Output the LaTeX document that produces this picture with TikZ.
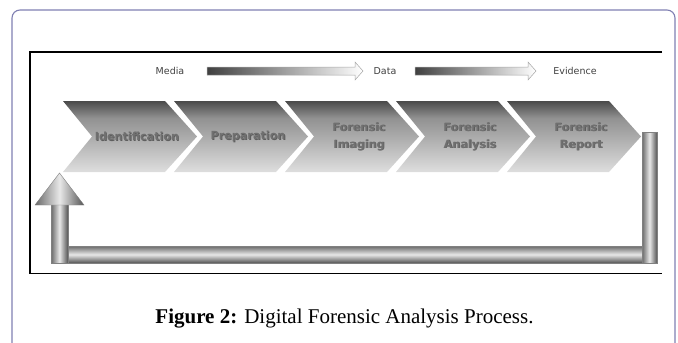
\documentclass[tikz,border=0pt]{standalone}
\usepackage{fontspec}
\setmainfont{Liberation Serif}
\newfontfamily\dvfont{DejaVu Sans}
\usetikzlibrary{calc}
\definecolor{boxline}{RGB}{128,128,178}
\definecolor{chevtext}{RGB}{112,112,112}
\definecolor{chevshadow}{RGB}{60,60,60}
\definecolor{pipedark}{RGB}{105,105,105}
\definecolor{pipelight}{RGB}{232,232,232}
\pgfdeclareverticalshading{chevgrad}{100bp}{rgb(0bp)=(0.87,0.87,0.87); rgb(25bp)=(0.87,0.87,0.87); rgb(50bp)=(0.67,0.67,0.67); rgb(63bp)=(0.57,0.57,0.57); rgb(75bp)=(0.29,0.29,0.29); rgb(100bp)=(0.29,0.29,0.29)}
\begin{document}
\begin{tikzpicture}[x=1pt,y=-1pt,
  outerbox/.style={draw=boxline,line width=1.1pt,rounded corners=8pt},
  frameline/.style={draw=black,line width=1.5pt},
  chevshape/.style={shading=chevgrad},
  chevlabel/.style={font=\dvfont\bfseries\fontsize{11.2}{17}\selectfont,text=chevtext,align=center,inner sep=0pt},
  chevshad/.style={chevlabel,text=chevshadow,opacity=0.7},
  toplabel/.style={font=\dvfont\fontsize{9.5}{11}\selectfont,text=black!75,inner sep=0pt},
  toparrow/.style={left color=black!75,right color=white,draw=black!35,line width=0.5pt},
  vpipe/.style={left color=pipedark,right color=pipedark!80!black,middle color=pipelight,draw=black!50,line width=0.4pt},
  hpipe/.style={top color=pipedark,bottom color=pipedark!80!black,middle color=pipelight,draw=black!50,line width=0.4pt},
  caption/.style={font=\fontsize{21}{25}\selectfont,inner sep=0pt}]
\useasboundingbox (0,0) rectangle (678,343);
% outer rounded box (open at the bottom)
\draw[outerbox] (12,360) -- (12,10) -- (675,10) -- (675,360);
% inner frame
\draw[frameline] (662,52) -- (30,52) -- (30,273.5) -- (662,273.5);
% top labels and arrows
\node[toplabel] (media) at (170,71) {Media};
\node[toplabel] (data) at (385,71) {Data};
\node[toplabel] (evid) at (575,71) {Evidence};
\coordinate (a1s) at (207,71);
\coordinate (a1e) at (363,71);
\coordinate (a2s) at (415,71);
\coordinate (a2e) at (536,71);
\shadedraw[toparrow] ($(a1s)+(0,-4)$) -- ($(a1e)+(-8,-4)$) -- ($(a1e)+(-8,-9)$) -- (a1e) -- ($(a1e)+(-8,9)$) -- ($(a1e)+(-8,4)$) -- ($(a1s)+(0,4)$) -- cycle;
\shadedraw[toparrow] ($(a2s)+(0,-4)$) -- ($(a2e)+(-8,-4)$) -- ($(a2e)+(-8,-9)$) -- (a2e) -- ($(a2e)+(-8,9)$) -- ($(a2e)+(-8,4)$) -- ($(a2s)+(0,4)$) -- cycle;
% chevrons
\foreach \L/\nm/\txt in {63/c1/Identification,174/c2/Preparation,285/c3/{Forensic\\Imaging},396/c4/{Forensic\\Analysis},507/c5/{Forensic\\Report}}{
  \shade[chevshape] (\L,101) -- ++(102,0) -- ++(32,35.5) -- ++(-32,35.5) -- ++(-102,0) -- ++(29,-35.5) -- cycle;
  \node[chevshad] (\nm s) at (\L+74.8,137.3) {\txt};
  \node[chevlabel] (\nm) at (\L+74,136.5) {\txt};
}
% feedback pipe
\shadedraw[hpipe] (68,246) rectangle (642,263);
\shadedraw[vpipe] (642,132) rectangle (657,263);
\shadedraw[vpipe] (51,204) rectangle (68,263);
\coordinate (tipL) at (59.5,173);
\shadedraw[vpipe] (35,205) -- (tipL) -- (84,205) -- cycle;
% caption
\node[caption,anchor=base] (cap) at (344.5,323) {\textbf{Figure 2:} Digital Forensic Analysis Process.};
\end{tikzpicture}
\end{document}
